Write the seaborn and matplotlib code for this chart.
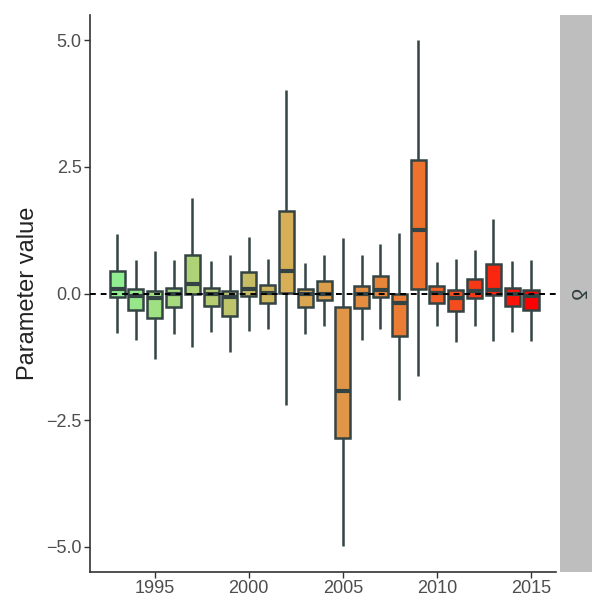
import numpy as np
import pandas as pd
import matplotlib
matplotlib.use("Agg")
import matplotlib.pyplot as plt
import seaborn as sns
from matplotlib.colors import LinearSegmentedColormap

years = list(range(1993, 2016))
# five-number summaries: lower whisker, Q1, median, Q3, upper whisker
low = [-0.78, -0.91, -1.29, -0.80, -1.05, -0.76, -1.15, -0.74, -0.70, -2.21, -0.79, -0.65,
       -4.98, -0.91, -0.70, -2.11, -1.62, -0.65, -0.95, -0.65, -0.93, -0.77, -0.93]
q1 = [-0.06, -0.32, -0.49, -0.26, 0.00, -0.24, -0.44, -0.05, -0.18, 0.01, -0.26, -0.12,
      -2.85, -0.28, -0.07, -0.84, 0.08, -0.18, -0.34, -0.09, -0.03, -0.24, -0.33]
med = [0.09, -0.05, -0.09, 0.00, 0.19, 0.00, -0.07, 0.09, 0.01, 0.45, 0.00, 0.00,
       -1.92, 0.00, 0.07, -0.18, 1.26, 0.01, -0.08, 0.05, 0.07, -0.01, -0.05]
q3 = [0.44, 0.08, 0.04, 0.11, 0.76, 0.11, 0.04, 0.42, 0.16, 1.62, 0.09, 0.24,
      -0.26, 0.14, 0.35, 0.00, 2.63, 0.14, 0.07, 0.29, 0.58, 0.11, 0.07]
high = [1.18, 0.67, 0.83, 0.67, 1.89, 0.65, 0.76, 1.11, 0.68, 4.01, 0.61, 0.76,
        1.09, 0.77, 0.98, 1.19, 5.00, 0.63, 0.68, 0.86, 1.48, 0.64, 0.67]
ticks = [1995, 2000, 2005, 2010, 2015]

rows = []
for i, y in enumerate(years):
    for v in (low[i], q1[i], med[i], q3[i], high[i]):
        rows.append({"year": y, "value": v})
df = pd.DataFrame(rows)

cmap = LinearSegmentedColormap.from_list(
    "yr", [(0, "#90EE90"), (0.41, "#D6AF57"), (0.72, "#EE7530"), (1, "#FF0000")])
palette = {y: cmap((y - years[0]) / (years[-1] - years[0])) for y in years}

sns.set_style("white")
plt.rcParams["font.family"] = ["Liberation Sans", "DejaVu Sans"]
fig = plt.figure(figsize=(5.92, 5.98), dpi=100)
ax = fig.add_axes([90 / 592, 26 / 598, 466 / 592, 557 / 598])

edge = "#344444"
sns.boxplot(data=df, x="year", y="value", hue="year", palette=palette, legend=False,
            native_scale=True, whis=np.inf, width=0.8, saturation=1, linewidth=1.8,
            linecolor=edge, showcaps=False, medianprops={"linewidth": 3.0},
            ax=ax)
ax.axhline(0, color="black", linestyle=(0, (3, 2.5)), linewidth=1.4, zorder=10)

ax.set_xlim(1991.56, 2016.33)
ax.set_ylim(-5.5, 5.5)
ax.set_xticks(ticks)
ax.set_yticks([-5, -2.5, 0, 2.5, 5])
ax.set_yticklabels(["\u22125.0", "\u22122.5", "0.0", "2.5", "5.0"])
ax.set_xlabel("")
ax.set_ylabel("Parameter value", fontsize=17, color="#222222", labelpad=5)
for s in ["top", "right"]:
    ax.spines[s].set_visible(False)
for s in ["left", "bottom"]:
    ax.spines[s].set_color("#333333")
    ax.spines[s].set_linewidth(1.2)
ax.tick_params(axis="both", length=4, width=1.0, color="#333333", pad=2,
               labelsize=13, labelcolor="#4D4D4D", bottom=True, left=True)

# facet strip on the right
sax = fig.add_axes([560 / 592, 26 / 598, 32 / 592, 557 / 598])
sax.set_facecolor("#BEBEBE")
sax.set_xticks([])
sax.set_yticks([])
for s in sax.spines.values():
    s.set_visible(False)
sax.text(0.5, 0.5, "\u03b4", rotation=-90, ha="center", va="center",
         fontsize=15, color="#2F3D3D", transform=sax.transAxes)

fig.savefig("out.png", dpi=100)
